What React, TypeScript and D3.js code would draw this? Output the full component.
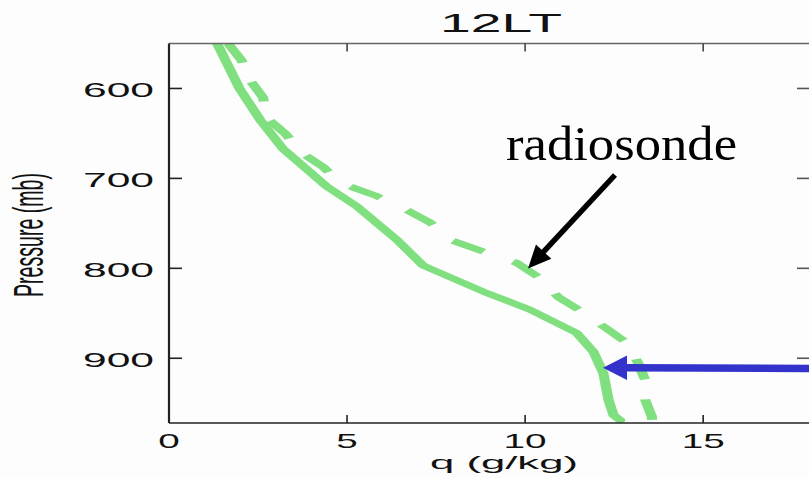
import React from "react";
import * as d3 from "d3";

// ---- data ----
const modelPressure = [550, 600, 635, 667, 709, 731, 768, 797, 826, 846, 872, 893, 917, 946, 963, 969];
const modelQ = [1.35, 1.98, 2.56, 3.2, 4.43, 5.27, 6.39, 7.14, 8.83, 10.14, 11.45, 11.92, 12.2, 12.34, 12.48, 12.67];

const sondePressure = [550, 569, 591, 610, 633, 650, 671, 688, 705, 719, 733, 749, 769, 782, 794, 811, 832, 848, 866, 883, 905, 924, 946, 965, 971];
const sondeQ = [1.66, 2.04, 2.28, 2.64, 2.75, 3.26, 3.71, 4.35, 4.8, 5.79, 6.57, 7.33, 7.94, 8.88, 9.77, 10.42, 10.93, 11.59, 12.25, 12.86, 13.17, 13.37, 13.37, 13.56, 13.57];

const xTicks = [0, 5, 10, 15];
const yTicks = [600, 700, 800, 900];
const titleText = "12LT";
const xLabel = "q (g/kg)";
const yLabel = "Pressure (mb)";
const annotation = "radiosonde";

// ---- layout ----
const W = 809;
const H = 478;
const left = 169;
const right = 810;
const top = 43.5;
const bottom = 423;
const SX = 1.7; // horizontal stretch of the original figure

const x = d3.scaleLinear().domain([0, 18]).range([left, right]);
const y = d3.scaleLinear().domain([550, 972]).range([top, bottom]);

const modelData = modelPressure.map((p, i) => ({ p, q: modelQ[i] }));
const sondeData = sondePressure.map((p, i) => ({ p, q: sondeQ[i] }));

const line = d3
  .line<{ p: number; q: number }>()
  .x((d) => x(d.q) / SX)
  .y((d) => y(d.p));

const GREEN = "#80e080";
const FONT = "'Liberation Sans', Arial, Helvetica, sans-serif";

export default function App() {
  // black arrow
  const a0 = [615, 175];
  const tip = [528, 268.5];
  const dx = tip[0] - a0[0];
  const dy = tip[1] - a0[1];
  const len = Math.hypot(dx, dy);
  const ux = dx / len;
  const uy = dy / len;
  const headLen = 23;
  const headHalf = 10.5;
  const bx = tip[0] - ux * headLen;
  const by = tip[1] - uy * headLen;
  const px = -uy;
  const py = ux;
  const headPts = [
    [tip[0], tip[1]],
    [bx + px * headHalf, by + py * headHalf],
    [bx - px * headHalf, by - py * headHalf],
  ];

  return (
    <svg
      width={W}
      height={H}
      style={{ position: "fixed", left: 0, top: 0, background: "#fdfdfd" }}
    >
      <defs>
        <clipPath id="plotclip">
          <rect x={left / SX} y={top} width={(right - left) / SX} height={bottom - top} />
        </clipPath>
      </defs>

      {/* title */}
      <text x={440} y={32} fontFamily={FONT} fontSize={25} textLength={122} lengthAdjust="spacingAndGlyphs" fill="#111">
        {titleText}
      </text>

      {/* curves (drawn in unstretched space, then stretched) */}
      <g transform={`scale(${SX},1)`} clipPath="url(#plotclip)">
        <path d={line(sondeData) || ""} fill="none" stroke={GREEN} strokeWidth={6} strokeDasharray="21 20" strokeLinejoin="round" />
        <path d={line(modelData) || ""} fill="none" stroke={GREEN} strokeWidth={6} strokeLinejoin="round" strokeLinecap="round" />
      </g>

      {/* frame */}
      <line x1={left} x2={W} y1={top} y2={top} stroke="#666" strokeWidth={1.6} />
      <line x1={left} x2={left} y1={top} y2={bottom} stroke="#222" strokeWidth={2.2} />
      <line x1={left} x2={W} y1={bottom} y2={bottom} stroke="#222" strokeWidth={1.6} />

      {/* x ticks */}
      {xTicks.map((t) => (
        <g key={"xt" + t}>
          {t !== 0 && <line x1={x(t)} x2={x(t)} y1={bottom} y2={bottom - 8} stroke="#222" strokeWidth={1.6} />}
          {t !== 0 && <line x1={x(t)} x2={x(t)} y1={top} y2={top + 8} stroke="#444" strokeWidth={1.6} />}
          <text
            x={x(t) - (String(t).length * 21.5) / 2}
            y={448}
            fontFamily={FONT}
            fontSize={21}
            textLength={String(t).length * 21.5}
            lengthAdjust="spacingAndGlyphs"
            fill="#111"
          >
            {t}
          </text>
        </g>
      ))}

      {/* y ticks */}
      {yTicks.map((t) => (
        <g key={"yt" + t}>
          <line x1={left} x2={left + 13} y1={y(t)} y2={y(t)} stroke="#222" strokeWidth={1.6} />
          <line x1={right - 13} x2={right} y1={y(t)} y2={y(t)} stroke="#555" strokeWidth={1.6} />
          <text x={83} y={y(t) + 8.3} fontFamily={FONT} fontSize={20} textLength={71} lengthAdjust="spacingAndGlyphs" fill="#111">
            {t}
          </text>
        </g>
      ))}

      {/* axis labels */}
      <text x={430} y={469} fontFamily={FONT} fontSize={19} textLength={148} lengthAdjust="spacingAndGlyphs" fill="#111">
        {xLabel}
      </text>
      <text
        transform="translate(43,297) rotate(-90)"
        x={0}
        y={0}
        fontFamily={FONT}
        fontSize={42}
        textLength={124}
        lengthAdjust="spacingAndGlyphs"
        fill="#111"
      >
        {yLabel}
      </text>

      {/* annotation */}
      <text x={506} y={160} fontFamily="'Liberation Serif', 'Times New Roman', serif" fontSize={49} textLength={231} lengthAdjust="spacingAndGlyphs" fill="#000">
        {annotation}
      </text>
      <line x1={a0[0]} y1={a0[1]} x2={bx + ux * 2} y2={by + uy * 2} stroke="#000" strokeWidth={5.5} />
      <polygon points={headPts.map((p) => p.join(",")).join(" ")} fill="#000" />

      {/* blue arrow */}
      <line x1={W + 2} y1={368.5} x2={625} y2={367.8} stroke="#3333cc" strokeWidth={7.5} />
      <polygon points="603,367.7 627,355.5 627,380" fill="#3333cc" />
    </svg>
  );
}
